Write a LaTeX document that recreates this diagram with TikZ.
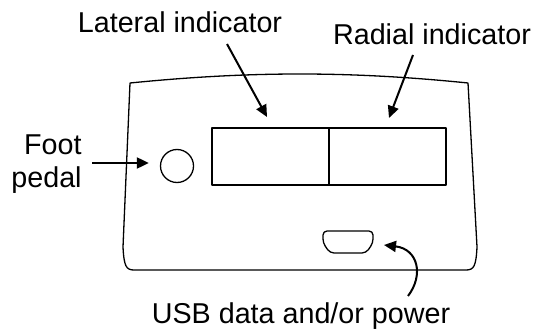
\documentclass[tikz,border=0pt]{standalone}
\usepackage{fontspec}
\setmainfont{Liberation Sans}
\usetikzlibrary{calc,arrows.meta,positioning}

\begin{document}
\begin{tikzpicture}[
    x=0.5pt, y=-0.5pt,
    font=\fontsize{14.35}{16.5}\selectfont,
    line join=round,
    body/.style={draw, line width=0.65pt},
    panel/.style={draw, line width=0.65pt, minimum width=58.5pt, minimum height=28.5pt,
                  inner sep=0pt, outer sep=0pt},
    lbl/.style={inner sep=0pt, anchor=base},
    arr/.style={line width=1pt, -{Triangle[length=6pt, width=5.5pt]}}
  ]
  \useasboundingbox (0,0) rectangle (544,331);

  % Housing outline
  \draw[body] (130,83) .. controls (250,71) and (350,71) .. (468,83)
    -- (477,247) .. controls (476,266) and (474,270) .. (466,270)
    -- (134,270) .. controls (126,270) and (124,266) .. (123,247) -- cycle;

  % Indicator windows
  \node[panel, anchor=north west] (lat) at (212,128) {};
  \node[panel, anchor=north west] (rad) at (lat.north east) {};

  % Foot pedal socket
  \node[draw, circle, line width=0.65pt, minimum size=16.5pt, inner sep=0pt] (pedal) at (177,166) {};

  % USB port
  \coordinate (usb) at (373,242);
  \draw[body, rounded corners=2pt] (323,243) -- (323,231) -- (373,231) -- (373,243)
    -- (366,253) -- (330,253) -- cycle;

  % Labels
  \node[lbl] (lattxt) at (180,33) {Lateral indicator};
  \node[lbl] (radtxt) at (432,45) {Radial indicator};
  \node[inner sep=0pt, anchor=east, align=right] (foottxt) at (82,164) {Foot\\pedal};
  \node[lbl] (usbtxt) at (301,323) {USB data and/or power};

  % Pointers
  \draw[arr] ($(lattxt.base)+(47,11)$) -- ($(lat.north west)+(55,-11)$);
  \draw[arr] ($(radtxt.base)+(-19,10)$) -- ($(rad.north west)+(60,-10)$);
  \draw[arr] ($(foottxt.east)+(10,-1)$) -- ($(pedal.west)+(-11,-3)$);
  \draw[arr] ($(usbtxt.base)+(107,-27)$) .. controls (424,275) and (418,249) .. ($(usb)+(11,3)$);

\end{tikzpicture}
\end{document}
